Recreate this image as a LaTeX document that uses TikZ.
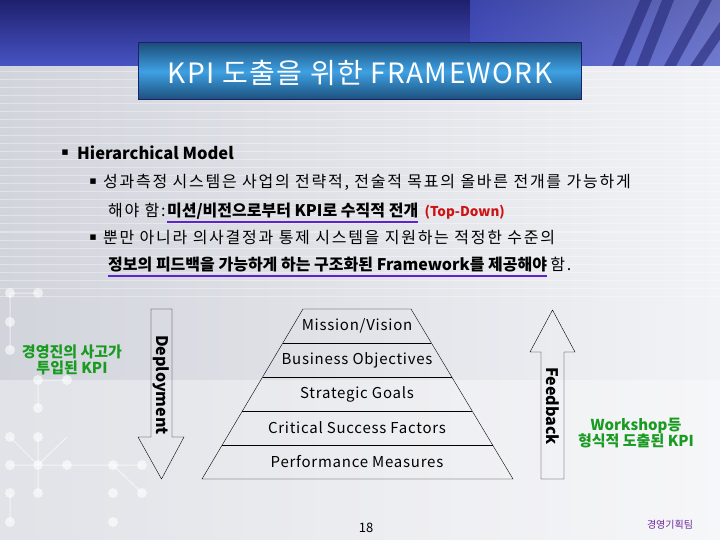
\documentclass[tikz,border=0pt]{standalone}
\usepackage{fontspec}
\setmainfont{Noto Sans CJK KR}
\newfontfamily\symfont{DejaVu Sans}
\newfontfamily\spaced{Noto Sans CJK KR}[LetterSpace=11]
\newfontfamily\wide{Noto Sans CJK KR}[LetterSpace=5]
\usetikzlibrary{positioning,calc}
\definecolor{bandtop}{RGB}{30,32,110}
\definecolor{bandbot}{RGB}{72,84,196}
\definecolor{boxdark}{RGB}{28,78,122}
\definecolor{boxlight}{RGB}{62,160,226}
\definecolor{kpigreen}{RGB}{24,155,32}
\definecolor{ulpurple}{RGB}{95,35,205}
\definecolor{tdred}{RGB}{205,20,20}
\definecolor{teampurple}{RGB}{110,40,160}
\begin{document}
\begin{tikzpicture}[x=1pt,y=-1pt,
    txt/.style={inner sep=0pt,anchor=west,font=\spaced\fontsize{16}{19}\selectfont},
    bul/.style={inner sep=0pt,font=\symfont\fontsize{11}{13}\selectfont},
    uline/.style={ulpurple,line width=2.2pt},
    level/.style={inner sep=0pt,font=\wide\fontsize{15}{18}\selectfont},
    arrowtxt/.style={inner sep=0pt,rotate=-90,font=\bfseries\fontsize{16}{19}\selectfont},
    kpi/.style={inner sep=0pt,align=center,text=kpigreen,font=\bfseries\fontsize{15}{16.5}\selectfont}]
    \useasboundingbox (0,0) rectangle (720,540);
    % background
    \shade[left color={rgb,255:red,210;green,212;blue,220},right color={rgb,255:red,242;green,243;blue,246}] (0,0) rectangle (720,540);
    \shade[top color=white,bottom color=white,middle color=white,opacity=0.35] (0,380) rectangle (720,540);
    \foreach \y in {72,80,...,300}
        \draw[white,opacity=0.35,line width=1pt] (0,\y) -- (720,\y);
    % network dots
    \draw[white,opacity=0.6,line width=1pt] (10,293) -- (38,293) (10,293) -- (10,350) (38,380) -- (67,380) (38,380) -- (38,408)
        (10,437) -- (38,465) -- (67,437) (10,465) -- (142,465) (38,437) -- (38,493) (113,465) -- (142,493) (10,493) -- (10,522);
    \foreach \p in {(10,293),(38,293),(10,322),(10,350),(38,380),(67,380),(38,408),(10,437),(38,437),(10,465),(38,465),(67,465),(113,465),(142,465),(10,493),(38,493),(113,493),(142,493),(10,522),(113,522)}
        \fill[white,opacity=0.6] \p circle (5);
    % top band
    \shade[top color=bandtop,bottom color=bandbot] (0,0) rectangle (720,66);
    \shade[left color=bandbot,right color={rgb,255:red,130;green,140;blue,215},opacity=0.7] (470,0) rectangle (720,66);
    \foreach \a/\b in {612/640,636/662,664/700,690/735}
        \fill[bandtop,opacity=0.55] (\a,66) -- (\a+12,66) -- (\b+12,0) -- (\b,0) -- cycle;
    % title
    \shade[top color=boxdark,bottom color=boxdark,middle color=boxlight,draw=bandtop,line width=1pt] (138,43) rectangle (581,100);
    \node[text=white,inner sep=0pt,font=\wide\fontsize{28}{30}\selectfont] (title) at (360,73) {KPI 도출을 위한 FRAMEWORK};
    % text
    \node[bul] (b1) at (65,153) {▪};
    \node[txt,font=\bfseries\fontsize{16.5}{20}\selectfont] (hm) at (77,153) {Hierarchical Model};
    \node[bul] (b2) at (93,182) {▪};
    \node[txt] (l2) at (103,182) {성과측정 시스템은 사업의 전략적, 전술적 목표의 올바른 전개를 가능하게};
    \node[txt] (l3a) at (108,210) {해야 함:};
    \node[txt,font=\bfseries\fontsize{16}{19}\selectfont,base right=1pt of l3a] (l3b) {미션/비전으로부터 KPI로 수직적 전개};
    \node[txt,text=tdred,font=\bfseries\fontsize{13.5}{15}\selectfont,base right=6pt of l3b] (l3c) {(Top-Down)};
    \draw[uline] ([yshift=-3pt]l3b.south west) -- ([yshift=-3pt]l3b.south east);
    \node[bul] (b4) at (93,238) {▪};
    \node[txt] (l4) at (103,238) {뿐만 아니라 의사결정과 통제 시스템을 지원하는 적정한 수준의};
    \node[txt,font=\bfseries\fontsize{16}{19}\selectfont] (l5a) at (108,265) {정보의 피드백을 가능하게 하는 구조화된 Framework를 제공해야};
    \node[txt,base right=3pt of l5a] (l5b) {함.};
    \draw[uline] ([yshift=-3pt]l5a.south west) -- ([yshift=-3pt]l5a.south east);
    % pyramid
    \coordinate (tl) at (303,309);
    \coordinate (tr) at (411,309);
    \coordinate (br) at (513,479);
    \coordinate (bl) at (202,479);
    \draw (tl) -- (tr) -- (br) -- (bl) -- cycle;
    \foreach \k in {1,...,4}
        \draw ($(tl)!\k/5!(bl)$) -- ($(tr)!\k/5!(br)$);
    \node[level] (mission) at (357,326) {Mission/Vision};
    \node[level] (objectives) at (357,360) {Business Objectives};
    \node[level] (goals) at (357,394) {Strategic Goals};
    \node[level] (csf) at (357,428) {Critical Success Factors};
    \node[level] (measures) at (357,462) {Performance Measures};
    % deployment / feedback arrows
    \draw (151,309) -- (172,309) -- (172,437) -- (184,437) -- (161.5,479) -- (138,437) -- (151,437) -- cycle;
    \node[arrowtxt] (deploy) at (161.5,385) {Deployment};
    \draw (541,479) -- (564,479) -- (564,352) -- (575,352) -- (552.5,310) -- (530,352) -- (541,352) -- cycle;
    \node[arrowtxt] (feedback) at (552.5,406) {Feedback};
    \node[kpi] (topkpi) at (72,360) {경영진의 사고가\\투입된 KPI};
    \node[kpi] (wskpi) at (636,433) {Workshop등\\형식적 도출된 KPI};
    % footer
    \node[inner sep=0pt,font=\fontsize{13}{15}\selectfont] (page) at (366,528) {18};
    \node[inner sep=0pt,text=teampurple,font=\fontsize{10}{12}\selectfont] (team) at (670,525) {경영기획팀};
\end{tikzpicture}
\end{document}
